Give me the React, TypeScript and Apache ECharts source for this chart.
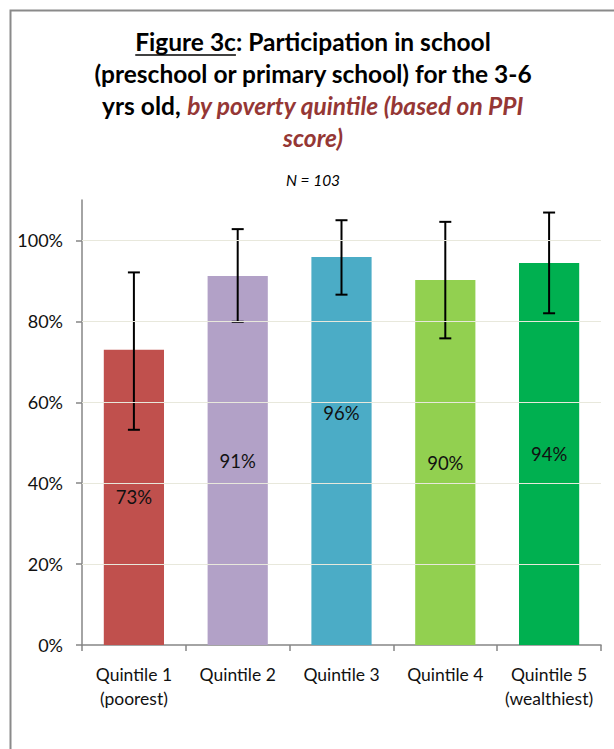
import React, { useEffect, useRef } from "react";
import * as echarts from "echarts";

const categories = ["Quintile 1\n(poorest)", "Quintile 2", "Quintile 3", "Quintile 4", "Quintile 5\n(wealthiest)"];
const values = [0.73, 0.912, 0.959, 0.902, 0.944];
const errLow = [0.532, 0.799, 0.866, 0.758, 0.82];
const errHigh = [0.921, 1.028, 1.05, 1.046, 1.069];
const barColors = ["#C0504D", "#B2A1C7", "#4BACC6", "#92D050", "#00B050"];
const yTicks = [0, 0.2, 0.4, 0.6, 0.8, 1.0];

const FONT = "Lato, 'Open Sans', sans-serif";
const TITLE_SIZE = 24.5;

function measure(text: string, font: string): number {
  const c = document.createElement("canvas").getContext("2d");
  if (!c) return 0;
  c.font = font;
  return c.measureText(text).width;
}

export default function App() {
  const ref = useRef<HTMLDivElement>(null);
  useEffect(() => {
    document.body.style.margin = "0";
    const chart = echarts.init(ref.current!, null, { renderer: "svg" });
    const tFont = `bold ${TITLE_SIZE}px Lato`;
    const wFig = measure("Figure 3c", tFont);
    const wLine = measure("Figure 3c: Participation in school", tFont);
    const cx = 313;
    const ux1 = cx - wLine / 2;
    const ux2 = ux1 + wFig;
    const option = {
      animation: false,
      backgroundColor: "#ffffff",
      textStyle: { fontFamily: FONT },
      grid: { left: 82, right: 13, top: 200, bottom: 104, containLabel: false },
      xAxis: {
        type: "category",
        data: categories,
        axisLine: { lineStyle: { color: "#868686", width: 1.5 } },
        axisTick: { show: true, length: 6, lineStyle: { color: "#868686", width: 1.5 } },
        axisLabel: { color: "#111", fontSize: 17.5, fontFamily: FONT, margin: 17, lineHeight: 24, interval: 0 },
      },
      yAxis: {
        type: "value",
        min: 0,
        max: 1.1,
        interval: 0.2,
        axisLine: { show: true, lineStyle: { color: "#868686", width: 1.5 } },
        axisTick: { show: true, length: 6, customValues: yTicks, lineStyle: { color: "#868686", width: 1.5 } },
        axisLabel: {
          color: "#111",
          fontSize: 18,
          fontFamily: FONT,
          margin: 19,
          customValues: yTicks,
          formatter: (v: number) => Math.round(v * 100) + "%",
        },
        splitLine: { show: false },
      },
      series: [
        {
          type: "line",
          data: [],
          z: 0,
          silent: true,
          markLine: {
            silent: true,
            symbol: "none",
            label: { show: false },
            lineStyle: { color: "#e8e8dc", type: "solid", width: 1.2 },
            data: [0.2, 0.4, 0.6, 0.8, 1.0].map((v) => ({ yAxis: v })),
          },
        },
        {
          type: "bar",
          z: 2,
          barWidth: "58%",
          data: values.map((v, i) => ({
            value: v,
            itemStyle: { color: barColors[i] },
            label: i === 2 ? { offset: [0, -38] } : undefined,
          })),
          label: {
            show: true,
            position: "inside",
            color: "#111",
            fontSize: 18.5,
            fontFamily: FONT,
            formatter: (p: any) => Math.round(p.value * 100) + "%",
          },
        },
        {
          type: "custom",
          z: 3,
          data: errLow.map((l, i) => [i, l, errHigh[i]]),
          encode: { x: 0, y: [1, 2] },
          renderItem: (params: any, api: any) => {
            const idx = api.value(0);
            const lo = api.coord([idx, api.value(1)]);
            const hi = api.coord([idx, api.value(2)]);
            const hw = 6;
            const style = { stroke: "#000", lineWidth: 2 };
            return {
              type: "group",
              children: [
                { type: "line", shape: { x1: hi[0], y1: hi[1], x2: lo[0], y2: lo[1] }, style },
                { type: "line", shape: { x1: hi[0] - hw, y1: hi[1], x2: hi[0] + hw, y2: hi[1] }, style },
                { type: "line", shape: { x1: lo[0] - hw, y1: lo[1], x2: lo[0] + hw, y2: lo[1] }, style },
              ],
            };
          },
        },
      ],
      graphic: [
        {
          type: "rect",
          shape: { x: 10.5, y: 10.5, width: 800, height: 900 },
          style: { fill: "none", stroke: "#8a8a8a", lineWidth: 2 },
          silent: true,
        },
        {
          type: "text",
          x: cx,
          y: 25,
          style: {
            text:
              "{u|Figure 3c}{b|: Participation in school}\n" +
              "{b|(preschool or primary school) for the 3-6}\n" +
              "{b|yrs old, }{r|by poverty quintile (based on PPI}\n" +
              "{r|score)}",
            align: "center",
            verticalAlign: "top",
            lineHeight: 32,
            rich: {
              u: { fontFamily: FONT, fontSize: TITLE_SIZE, fontWeight: "bold", fill: "#000", lineHeight: 32 },
              b: { fontFamily: FONT, fontSize: TITLE_SIZE, fontWeight: "bold", fill: "#000", lineHeight: 32 },
              r: { fontFamily: FONT, fontSize: TITLE_SIZE, fontWeight: "bold", fontStyle: "italic", fill: "#953735", lineHeight: 32 },
            },
          },
        },
        {
          type: "line",
          shape: { x1: ux1, y1: 55, x2: ux2, y2: 55 },
          style: { stroke: "#000", lineWidth: 1.5 },
        },
        {
          type: "text",
          x: cx,
          y: 180,
          style: {
            text: "N = 103",
            align: "center",
            verticalAlign: "middle",
            fontFamily: FONT,
            fontSize: 15.5,
            fontStyle: "italic",
            fill: "#000",
          },
        },
      ],
    };
    chart.setOption(option as any);
    return () => chart.dispose();
  }, []);
  return <div ref={ref} style={{ width: 614, height: 749 }} />;
}
